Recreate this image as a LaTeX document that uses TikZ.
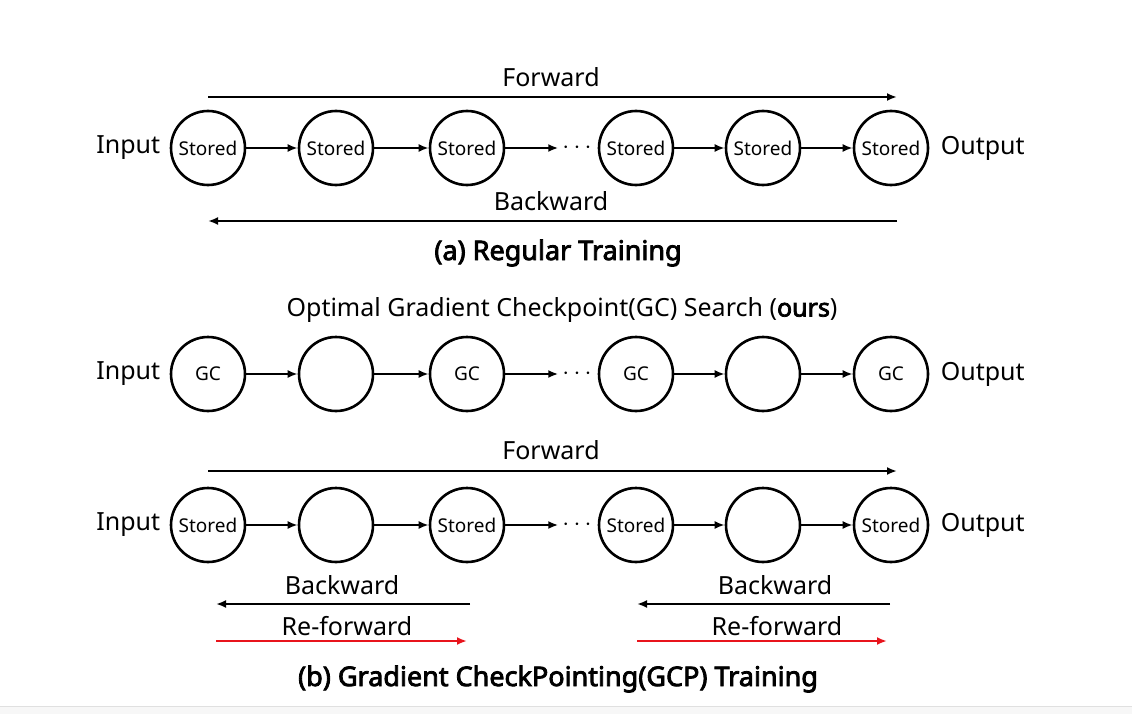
\documentclass[tikz,border=0pt]{standalone}
\usepackage{fontspec}
\setmainfont{Noto Sans}[BoldFont={Noto Sans}, BoldFeatures={FakeBold=3}]
\usetikzlibrary{arrows.meta, positioning}
\definecolor{refwd}{RGB}{232,20,28}

\tikzset{
  cell/.style={circle, draw, line width=2.6pt, minimum size=74pt, inner sep=0pt, font=\fontsize{19}{21}\selectfont},
  link/.style={line width=2.4pt, -{Latex[length=10pt,width=8pt]}},
  lbl/.style={font=\fontsize{25}{28}\selectfont},
  ttl/.style={font=\fontsize{27}{30}\selectfont\bfseries},
  dotsn/.style={inner sep=4pt, font=\fontsize{30}{32}\selectfont},
}

\begin{document}
\begin{tikzpicture}[x=1pt,y=-1pt]
    \useasboundingbox (0,0) rectangle (1132,714);
    \fill[black!3] (0,706) rectangle (1132,714);
    \draw[black!12, line width=1pt] (0,706) -- (1132,706);

    % (a) regular training
    \foreach \i/\x/\t in {1/208/Stored,2/336/Stored,3/467/Stored,4/636/Stored,5/763/Stored,6/891/Stored}
        \node[cell] (a\i) at (\x,148) {\t};
    \node[dotsn] (adots) at (577,148) {$\cdots$};
    \node[lbl, left=6pt of a1] (ain) {Input};
    \node[lbl, right=8pt of a6] (aout) {Output};
    \draw[link] (a1) -- (a2);
    \draw[link] (a2) -- (a3);
    \draw[link] (a3) -- (a3 -| adots.west);
    \draw[link] (a4) -- (a5);
    \draw[link] (a5) -- (a6);
    \coordinate (afs) at (208,97);
    \coordinate (afe) at (897,97);
    \coordinate (abs) at (897,221);
    \coordinate (abe) at (208,221);
    \draw[link] (afs) -- (afe);
    \draw[link] (abs) -- (abe);
    \node[lbl] (afwd) at (551,77) {Forward};
    \node[lbl] (abwd) at (551,201) {Backward};
    \node[ttl] (atitle) at (558,253) {(a) Regular Training};

    % GC search
    \node[lbl] (gtitle) at (562,310) {Optimal Gradient Checkpoint(GC) Search (\textbf{ours})};
    \foreach \i/\x/\t in {1/208/GC,2/336/{},3/467/GC,4/636/GC,5/763/{},6/891/GC}
        \node[cell] (g\i) at (\x,374) {\t};
    \node[dotsn] (gdots) at (577,374) {$\cdots$};
    \node[lbl, left=6pt of g1] (gin) {Input};
    \node[lbl, right=8pt of g6] (gout) {Output};
    \draw[link] (g1) -- (g2);
    \draw[link] (g2) -- (g3);
    \draw[link] (g3) -- (g3 -| gdots.west);
    \draw[link] (g4) -- (g5);
    \draw[link] (g5) -- (g6);

    % (b) GCP training
    \foreach \i/\x/\t in {1/208/Stored,2/336/{},3/467/Stored,4/636/Stored,5/763/{},6/891/Stored}
        \node[cell] (b\i) at (\x,525) {\t};
    \node[dotsn] (bdots) at (577,525) {$\cdots$};
    \node[lbl, left=6pt of b1] (bin) {Input};
    \node[lbl, right=8pt of b6] (bout) {Output};
    \draw[link] (b1) -- (b2);
    \draw[link] (b2) -- (b3);
    \draw[link] (b3) -- (b3 -| bdots.west);
    \draw[link] (b4) -- (b5);
    \draw[link] (b5) -- (b6);
    \coordinate (bfs) at (208,471);
    \coordinate (bfe) at (897,471);
    \draw[link] (bfs) -- (bfe);
    \node[lbl] (bfwd) at (551,450) {Forward};
    % left segment
    \coordinate (lbs) at (470,604);
    \coordinate (lbe) at (216,604);
    \coordinate (lrs) at (216,641);
    \coordinate (lre) at (467,641);
    \draw[link] (lbs) -- (lbe);
    \draw[link, refwd] (lrs) -- (lre);
    \node[lbl] (lbwd) at (342,585) {Backward};
    \node[lbl] (lrfw) at (347,626) {Re-forward};
    % right segment
    \coordinate (rbs) at (890,604);
    \coordinate (rbe) at (637,604);
    \coordinate (rrs) at (637,641);
    \coordinate (rre) at (887,641);
    \draw[link] (rbs) -- (rbe);
    \draw[link, refwd] (rrs) -- (rre);
    \node[lbl] (rbwd) at (775,585) {Backward};
    \node[lbl] (rrfw) at (777,626) {Re-forward};
    \node[ttl] (btitle) at (558,679) {(b) Gradient CheckPointing(GCP) Training};
\end{tikzpicture}
\end{document}
